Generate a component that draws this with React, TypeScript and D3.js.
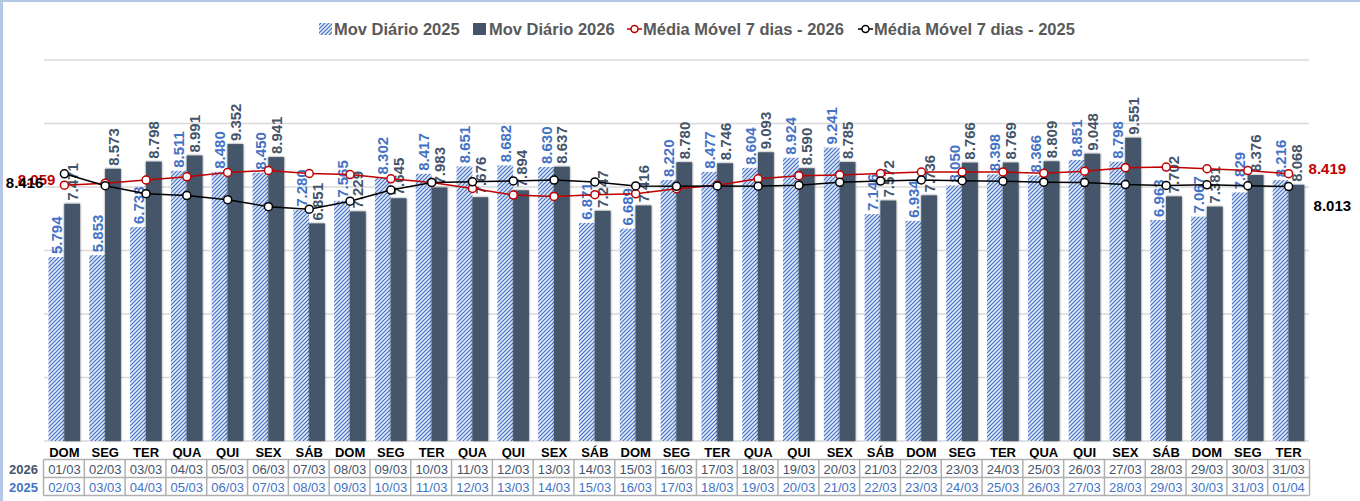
import { useEffect } from "react";
import * as d3 from "d3";

const weekdays = ["DOM", "SEG", "TER", "QUA", "QUI", "SEX", "SÁB", "DOM", "SEG", "TER", "QUA", "QUI", "SEX", "SÁB", "DOM", "SEG", "TER", "QUA", "QUI", "SEX", "SÁB", "DOM", "SEG", "TER", "QUA", "QUI", "SEX", "SÁB", "DOM", "SEG", "TER"];
const dates2026 = ["01/03", "02/03", "03/03", "04/03", "05/03", "06/03", "07/03", "08/03", "09/03", "10/03", "11/03", "12/03", "13/03", "14/03", "15/03", "16/03", "17/03", "18/03", "19/03", "20/03", "21/03", "22/03", "23/03", "24/03", "25/03", "26/03", "27/03", "28/03", "29/03", "30/03", "31/03"];
const dates2025 = ["02/03", "03/03", "04/03", "05/03", "06/03", "07/03", "08/03", "09/03", "10/03", "11/03", "12/03", "13/03", "14/03", "15/03", "16/03", "17/03", "18/03", "19/03", "20/03", "21/03", "22/03", "23/03", "24/03", "25/03", "26/03", "27/03", "28/03", "29/03", "30/03", "31/03", "01/04"];

// valores diários (milhares)
const mov2025 = [5.794, 5.853, 6.738, 8.511, 8.48, 8.45, 7.28, 7.565, 8.302, 8.417, 8.651, 8.682, 8.63, 6.871, 6.689, 8.22, 8.477, 8.604, 8.924, 9.241, 7.146, 6.934, 8.05, 8.398, 8.366, 8.851, 8.798, 6.963, 7.067, 7.829, 8.216];
const mov2026 = [7.471, 8.573, 8.798, 8.991, 9.352, 8.941, 6.851, 7.229, 7.645, 7.983, 7.676, 7.894, 8.637, 7.247, 7.416, 8.78, 8.746, 9.093, 8.59, 8.785, 7.572, 7.736, 8.766, 8.769, 8.809, 9.048, 9.551, 7.702, 7.381, 8.376, 8.068];

// médias móveis 7 dias
const mm2026 = [8.059, 8.12, 8.22, 8.32, 8.46, 8.52, 8.425, 8.391, 8.258, 8.142, 7.954, 7.746, 7.702, 7.759, 7.785, 7.948, 8.057, 8.259, 8.358, 8.38, 8.426, 8.472, 8.47, 8.473, 8.432, 8.498, 8.607, 8.626, 8.575, 8.519, 8.419];
const mm2025 = [8.416, 8.04, 7.79, 7.73, 7.6, 7.38, 7.301, 7.554, 7.904, 8.144, 8.164, 8.192, 8.218, 8.16, 8.035, 8.023, 8.031, 8.025, 8.059, 8.147, 8.186, 8.221, 8.197, 8.185, 8.151, 8.141, 8.078, 8.051, 8.07, 8.039, 8.013];

const yTicks = [0, 2, 4, 6, 8, 10, 12];

const FONT = "'Liberation Sans', Arial, sans-serif";
const BLUE = "#4472c4";
const DARK = "#44546a";
const RED = "#c00000";

const fmt = (v: number) => v.toFixed(3);

export default function App() {
  useEffect(() => {
    document.body.style.margin = "0";
  }, []);

  const x = d3.scaleBand<number>().domain(d3.range(weekdays.length)).range([44, 1309]);
  const sub = d3.scaleBand<string>().domain(["2025", "2026"]).range([4.5, 36.1]);
  const y = d3.scaleLinear().domain([0, 12]).range([441, 60]);
  const cx = (i: number) => x(i)! + x.bandwidth() / 2;

  const line = d3
    .line<number>()
    .x((_, i) => cx(i))
    .y((d) => y(d));

  const last = weekdays.length - 1;

  return (
    <svg width={1360} height={501} style={{ display: "block", background: "#fff" }} fontFamily={FONT}>
      <defs>
        <pattern id="hatch" width="4" height="4" patternUnits="userSpaceOnUse">
          <rect width="4" height="4" fill="#e2e9f7" />
          <path d="M-1,1 l2,-2 M0,4 l4,-4 M3,5 l2,-2" stroke={BLUE} strokeWidth={1.2} />
        </pattern>
        <filter id="shadow" x="-30%" y="-5%" width="160%" height="110%">
          <feDropShadow dx="0" dy="0" stdDeviation="1.1" floodColor="#000" floodOpacity="0.55" />
        </filter>
      </defs>

      {/* borda */}
      <rect x={0} y={0} width={1360} height={2} fill="#b4c7e7" />
      <rect x={0} y={0} width={3} height={501} fill="#b4c7e7" />

      {/* legenda */}
      <g fontSize={16.5} fontWeight="bold" fill="#595959">
        <rect x={319} y={23} width={13} height={12} fill="url(#hatch)" />
        <text x={334} y={29} dominantBaseline="central">Mov Diário 2025</text>
        <rect x={473} y={23} width={13} height={12} fill={DARK} />
        <text x={489} y={29} dominantBaseline="central">Mov Diário 2026</text>
        <line x1={627} x2={642} y1={29} y2={29} stroke={RED} strokeWidth={1.5} />
        <circle cx={634.5} cy={29} r={3.5} fill="#fff" stroke={RED} strokeWidth={1.5} />
        <text x={643} y={29} dominantBaseline="central">Média Móvel 7 dias - 2026</text>
        <line x1={858} x2={873} y1={29} y2={29} stroke="#000" strokeWidth={1.5} />
        <circle cx={865.5} cy={29} r={3.5} fill="#fff" stroke="#000" strokeWidth={1.5} />
        <text x={874} y={29} dominantBaseline="central">Média Móvel 7 dias - 2025</text>
      </g>

      {/* grade */}
      {yTicks.map((t) => (
        <line key={t} x1={44} x2={1309} y1={y(t)} y2={y(t)} stroke="#d9d9d9" strokeWidth={1.3} />
      ))}

      {/* barras */}
      {mov2025.map((v, i) => (
        <rect key={"a" + i} x={x(i)! + sub("2025")!} y={y(v)} width={sub.bandwidth()} height={y(0) - y(v)} fill="url(#hatch)" />
      ))}
      {mov2026.map((v, i) => (
        <rect key={"b" + i} x={x(i)! + sub("2026")!} y={y(v)} width={sub.bandwidth()} height={y(0) - y(v)} fill={DARK} filter="url(#shadow)" />
      ))}

      {/* rótulos das barras */}
      <g fontSize={15} fontWeight="bold">
        {mov2025.map((v, i) => {
          const bx = x(i)! + sub("2025")! + sub.bandwidth() / 2;
          const by = y(v) - 3;
          return (
            <text key={"la" + i} transform={`translate(${bx},${by}) rotate(-90)`} dominantBaseline="central" fill={BLUE}>
              {fmt(v)}
            </text>
          );
        })}
        {mov2026.map((v, i) => {
          const bx = x(i)! + sub("2026")! + sub.bandwidth() / 2;
          const by = y(v) - 3;
          return (
            <text key={"lb" + i} transform={`translate(${bx},${by}) rotate(-90)`} dominantBaseline="central" fill={DARK}>
              {fmt(v)}
            </text>
          );
        })}
      </g>

      {/* médias móveis */}
      <path d={line(mm2026)!} fill="none" stroke={RED} strokeWidth={1.5} />
      {mm2026.map((v, i) => (
        <circle key={"r" + i} cx={cx(i)} cy={y(v)} r={4} fill="#fff" stroke={RED} strokeWidth={1.5} />
      ))}
      <path d={line(mm2025)!} fill="none" stroke="#000" strokeWidth={1.5} />
      {mm2025.map((v, i) => (
        <circle key={"k" + i} cx={cx(i)} cy={y(v)} r={4} fill="#fff" stroke="#000" strokeWidth={1.5} />
      ))}

      <g fontSize={15} fontWeight="bold">
        <text x={cx(0) - 9} y={y(mm2026[0]) - 6} textAnchor="end" dominantBaseline="central" fill={RED}>
          {fmt(mm2026[0])}
        </text>
        <text x={cx(0) - 21} y={y(mm2025[0]) + 9} textAnchor="end" dominantBaseline="central" fill="#000">
          {fmt(mm2025[0])}
        </text>
        <text x={cx(last) + 20} y={y(mm2026[last]) - 5} dominantBaseline="central" fill={RED}>
          {fmt(mm2026[last])}
        </text>
        <text x={cx(last) + 25} y={y(mm2025[last]) + 19} dominantBaseline="central" fill="#000">
          {fmt(mm2025[last])}
        </text>
      </g>

      {/* eixo e tabela */}
      <g fontSize={13} fontWeight="bold" fill="#000">
        {weekdays.map((d, i) => (
          <text key={"w" + i} x={cx(i)} y={452} textAnchor="middle" dominantBaseline="central">
            {d}
          </text>
        ))}
      </g>
      <g stroke="#b0b0b0" strokeWidth={1.5}>
        {[459.5, 477.5, 495.5].map((ty) => (
          <line key={ty} x1={43.5} x2={1309.5} y1={ty} y2={ty} />
        ))}
        {d3.range(weekdays.length + 1).map((i) => {
          const lx = i === weekdays.length ? 1309.5 : x(i)! - 0.5;
          return <line key={"v" + i} x1={lx} x2={lx} y1={459.5} y2={495.5} />;
        })}
      </g>
      <g fontSize={13}>
        <text x={38} y={469} textAnchor="end" dominantBaseline="central" fontWeight="bold" fill={DARK}>2026</text>
        <text x={38} y={487} textAnchor="end" dominantBaseline="central" fontWeight="bold" fill={BLUE}>2025</text>
        {dates2026.map((d, i) => (
          <text key={"d6" + i} x={cx(i)} y={469} textAnchor="middle" dominantBaseline="central" fill={DARK}>
            {d}
          </text>
        ))}
        {dates2025.map((d, i) => (
          <text key={"d5" + i} x={cx(i)} y={487} textAnchor="middle" dominantBaseline="central" fill={BLUE}>
            {d}
          </text>
        ))}
      </g>
    </svg>
  );
}
